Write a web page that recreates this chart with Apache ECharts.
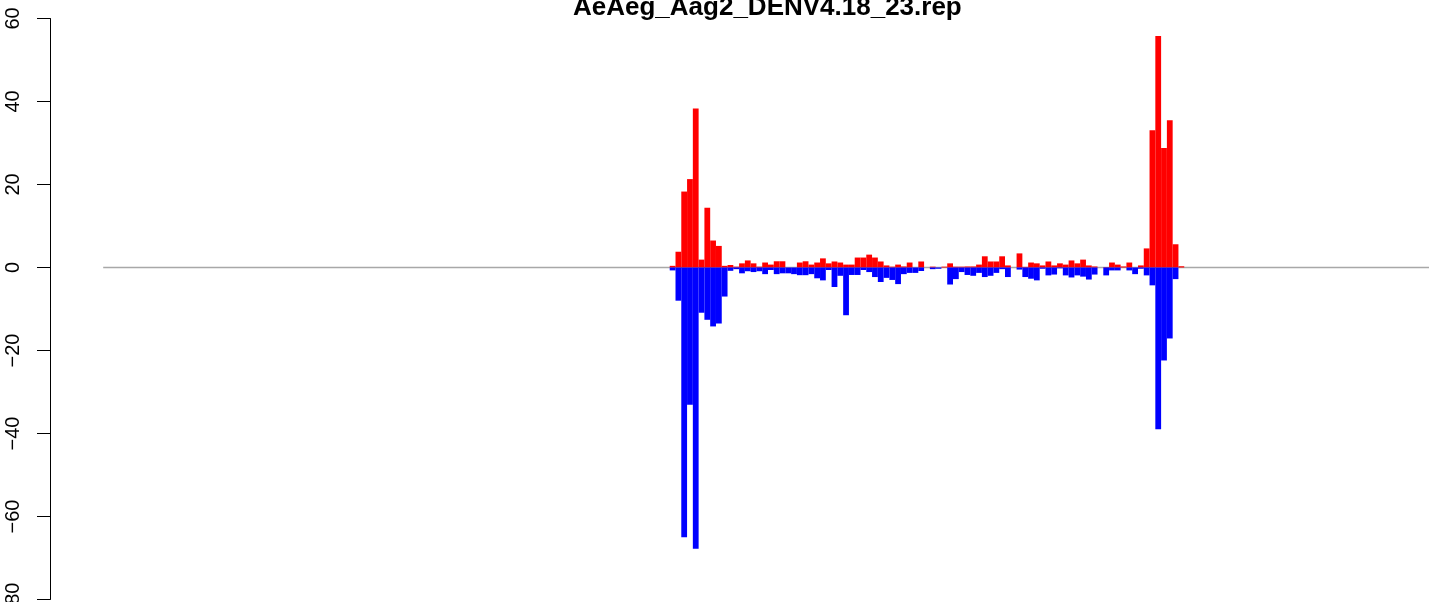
<!DOCTYPE html>
<html>
<head>
<meta charset="utf-8">
<script src="https://cdn.jsdelivr.net/npm/echarts@6/dist/echarts.min.js"></script>
<style>
  html, body { margin: 0; padding: 0; background: #ffffff; }
  #chart { width: 1429px; height: 602px; }
</style>
</head>
<body>
<div id="chart"></div>
<script>
// ---- data ----
const chartTitle = "AeAeg_Aag2_DENV4.18_23.rep";

// bin start positions (x, in bin units; the x range of the plot is 0..230)
const binStart = [
  98, 99, 100, 101, 102, 103, 104, 105, 106, 107,
  108, 109, 110, 111, 112, 113, 114, 115, 116, 117,
  118, 119, 120, 121, 122, 123, 124, 125, 126, 127,
  128, 129, 130, 131, 132, 133, 134, 135, 136, 137,
  138, 139, 140, 141, 142, 143, 144, 145, 146, 147,
  148, 149, 150, 151, 152, 153, 154, 155, 156, 157,
  158, 159, 160, 161, 162, 163, 164, 165, 166, 167,
  168, 169, 170, 171, 172, 173, 174, 175, 176, 177,
  178, 179, 180, 181, 182, 183, 184, 185, 186
];

// positive-strand counts (red)
const plusValues = [
  0.4, 3.8, 18.3, 21.3, 38.3, 1.9, 14.4, 6.5, 5.2, 0.4,
  0.6, 0.2, 1.0, 1.7, 1.0, 0.2, 1.2, 0.7, 1.5, 1.5,
  0, 0, 1.2, 1.5, 0.7, 1.2, 2.2, 1.0, 1.45, 1.2,
  0.7, 0.7, 2.4, 2.4, 3.1, 2.4, 1.45, 0.5, 0.2, 0.7,
  0.25, 1.2, 0, 1.45, 0, 0.2, 0, 0.2, 1.0, 0.2,
  0.2, 0.25, 0.25, 0.7, 2.7, 1.45, 1.45, 2.7, 0.5, 0,
  3.4, 0.15, 1.2, 1.0, 0.5, 1.45, 0.5, 1.0, 0.7, 1.7,
  1.0, 1.9, 0.5, 0.25, 0, 0.1, 1.2, 0.7, 0.25, 1.2,
  0, 0.5, 4.6, 33.1, 55.8, 28.8, 35.5, 5.6, 0.3
];

// negative-strand counts (blue)
const minusValues = [
  -0.7, -8.0, -65.0, -33.1, -67.8, -10.9, -12.6, -14.2, -13.5, -7.0,
  -0.8, -0.4, -1.4, -0.9, -1.1, -0.9, -1.6, -0.6, -1.6, -1.4,
  -1.4, -1.6, -1.85, -1.85, -1.6, -2.6, -3.1, -0.6, -4.7, -2.0,
  -11.5, -1.8, -1.8, -0.6, -1.1, -2.3, -3.5, -2.5, -3.0, -4.0,
  -1.6, -1.3, -1.3, -0.85, 0, -0.4, -0.3, 0, -4.1, -2.8,
  -1.1, -1.8, -2.0, -1.3, -2.3, -2.0, -1.3, -0.4, -2.3, 0,
  -0.5, -2.3, -2.7, -3.1, -0.3, -1.9, -1.7, -0.2, -1.9, -2.4,
  -1.9, -2.2, -2.9, -1.7, 0, -1.9, -0.7, -0.7, 0, -0.7,
  -1.6, -0.3, -1.9, -4.3, -39.0, -22.4, -17.1, -2.8, 0
];

// extent of the horizontal reference line (x units) and y ticks
const xRange = [0, 230];
const yTicks = [-80, -60, -40, -20, 0, 20, 40, 60];

// ---- chart ----
const plusData = binStart.map((x, i) => [x, plusValues[i]]);
const minusData = binStart.map((x, i) => [x, minusValues[i]]);

function barItem(color) {
  return function (params, api) {
    const x = api.value(0);
    const y = api.value(1);
    if (!y) return null;
    const p0 = api.coord([x, 0]);
    const p1 = api.coord([x + 1, y]);
    return {
      type: 'rect',
      shape: {
        x: p0[0],
        y: Math.min(p0[1], p1[1]),
        width: p1[0] - p0[0],
        height: Math.abs(p1[1] - p0[1])
      },
      style: { fill: color, stroke: null }
    };
  };
}

const xPad = (xRange[1] - xRange[0]) * 0.04;

const chart = echarts.init(document.getElementById('chart'), null, { renderer: 'canvas' });
chart.setOption({
  animation: false,
  backgroundColor: '#ffffff',
  title: {
    text: chartTitle,
    left: 568,
    top: -10,
    textStyle: {
      fontFamily: 'Liberation Sans, Arial, sans-serif',
      fontSize: 26,
      fontWeight: 'bold',
      color: '#000000',
      lineHeight: 26
    }
  },
  grid: {
    left: 50,
    top: 18.5,
    width: 1436,
    bottom: 2.5,
    containLabel: false,
    outerBoundsMode: 'none'
  },
  xAxis: {
    type: 'value',
    min: xRange[0] - xPad,
    max: xRange[1] + xPad,
    show: false
  },
  yAxis: {
    type: 'value',
    min: yTicks[0],
    max: yTicks[yTicks.length - 1],
    interval: 20,
    axisLine: { show: true, onZero: false, lineStyle: { color: '#000000', width: 1 } },
    axisTick: { show: true, length: 13, lineStyle: { color: '#000000', width: 1 } },
    splitLine: { show: false },
    axisLabel: {
      rotate: 90,
      margin: 27,
      fontSize: 20,
      fontFamily: 'Liberation Sans, Arial, sans-serif',
      color: '#000000',
      showMinLabel: true,
      showMaxLabel: true,
      formatter: v => String(v).replace('-', '\u2212')
    }
  },
  series: [
    {
      type: 'line',
      data: [[xRange[0], 0], [xRange[1], 0]],
      symbol: 'none',
      lineStyle: { color: '#a8a8a8', width: 1.4 },
      z: 1,
      silent: true
    },
    {
      type: 'custom',
      renderItem: barItem('#ff0000'),
      data: plusData,
      encode: { x: 0, y: 1 },
      z: 2,
      clip: false
    },
    {
      type: 'custom',
      renderItem: barItem('#0000ff'),
      data: minusData,
      encode: { x: 0, y: 1 },
      z: 2,
      clip: false
    }
  ]
});
</script>
</body>
</html>
